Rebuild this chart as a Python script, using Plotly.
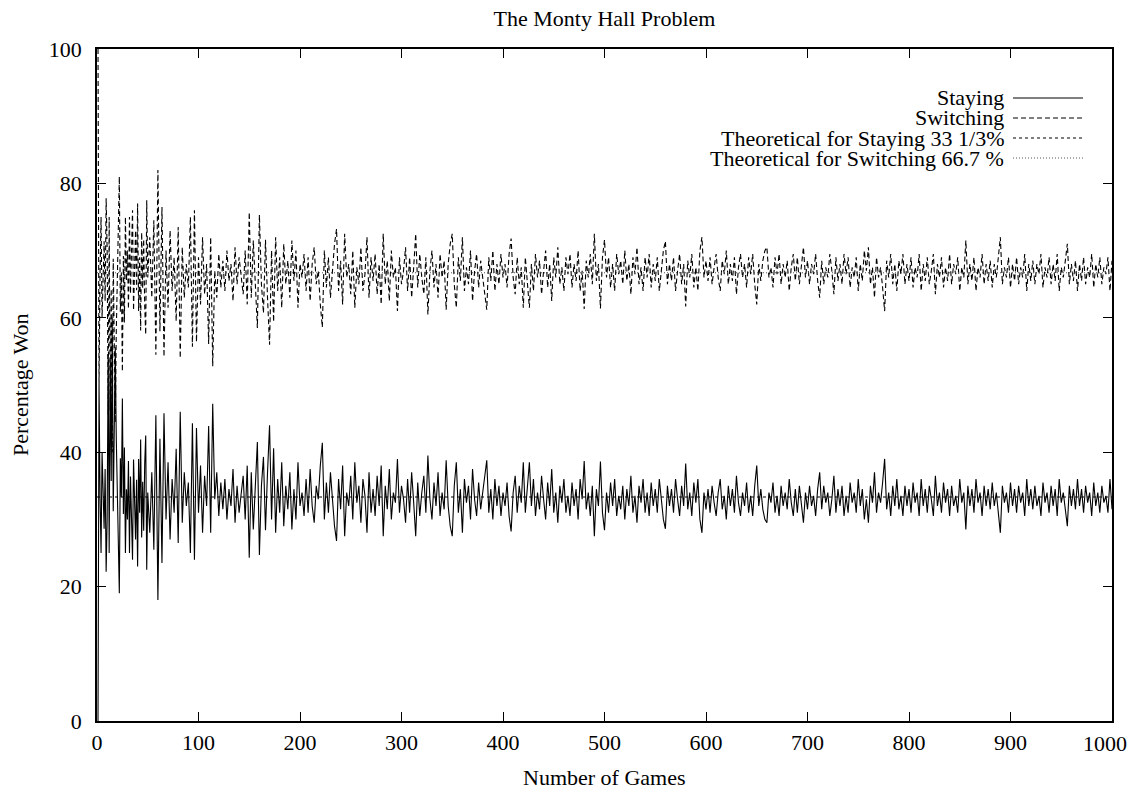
import plotly.graph_objects as go

# ---------------- data (percentage won per experiment of n games) ----------------
stay_1_50 = [0, 50, 33.3, 25, 40, 33.3, 28.6, 37.5, 22.2, 30,
             54.5, 25, 53.8, 35.7, 60, 31.2, 47.1, 55.6, 42.1, 35,
             23.8, 19, 39.1, 33.3, 48, 30.8, 40.7, 25, 34.5, 30,
             38.7, 25, 36.4, 29.4, 24, 38.9, 32.4, 27, 35.9, 23,
             39, 31, 41.9, 27.3, 35.6, 28.3, 38.3, 42.5, 22.5, 34]
switch_1_50 = [100, 50, 66.7, 75, 60, 66.7, 71.4, 62.5, 77.8, 70,
               45.5, 75, 46.2, 64.3, 40, 68.8, 52.9, 44.4, 57.9, 65,
               76.2, 81, 60.9, 66.7, 52, 69.2, 59.3, 75, 65.5, 70,
               61.3, 75, 63.6, 70.6, 76, 61.1, 67.6, 73, 64.1, 77,
               61, 69, 58.1, 72.7, 64.4, 71.7, 61.7, 57.5, 77.5, 66]

stay_52_200 = [28, 37, 25.5, 45.5, 18, 42, 23.5, 45.8, 30, 38.5,
               27, 36, 31, 40.5, 26.5, 46, 29.5, 37, 32, 35.5,
               25, 44.3, 24, 43.6, 31, 38, 28, 36.5, 32, 43.9,
               28, 47.2, 33, 37, 30.5, 35.5, 31.5, 36, 30, 34.5,
               32, 37.5, 29.5, 35, 31, 34, 36.5, 30, 38, 24.3,
               37, 28.5, 36, 41.5, 24.7, 35, 39.3, 28.4, 37, 44,
               30, 40.6, 28, 36, 31, 38.5, 29, 35, 31.5, 37,
               28.5, 34.5, 30, 38.5, 32]
switch_52_200 = [72, 63, 74.5, 54.5, 82, 58, 76.5, 54.2, 70, 61.5,
                 73, 64, 69, 59.5, 73.5, 54, 70.5, 63, 68, 64.5,
                 75, 55.7, 76, 56.4, 69, 62, 72, 63.5, 68, 56.1,
                 72, 52.8, 67, 63, 69.5, 64.5, 68.5, 64, 70, 65.5,
                 68, 62.5, 70.5, 65, 69, 66, 63.5, 70, 62, 75.7,
                 63, 71.5, 64, 58.5, 75.3, 65, 60.7, 71.6, 63, 56,
                 70, 59.4, 72, 64, 69, 61.5, 71, 65, 68.5, 63,
                 71.5, 65.5, 70, 61.5, 68]

stay_202_300 = [34, 30.5, 36, 31, 37.5, 32, 29.5, 35, 33, 38,
                41.4, 30, 35.5, 31, 37, 33, 29, 26.8, 36, 31.5,
                38, 27.5, 34, 32, 36.5, 30, 38.5, 32.5, 35, 29.5,
                36, 33.5, 28, 37, 31, 34.5, 30.5, 36.5, 32, 38,
                27.5, 35, 31.5, 37.5, 30, 34, 32.5, 39, 31, 35]
switch_202_300 = [66, 69.5, 64, 69, 62.5, 68, 70.5, 65, 67, 62,
                  58.6, 70, 64.5, 69, 63, 67, 71, 73.2, 64, 68.5,
                  62, 72.5, 66, 68, 63.5, 70, 61.5, 67.5, 65, 70.5,
                  64, 66.5, 72, 63, 69, 65.5, 69.5, 63.5, 68, 62,
                  72.5, 65, 68.5, 62.5, 70, 66, 67.5, 61, 69, 65]

stay_302_400 = [33, 29.5, 36, 31, 37, 32.5, 27.5, 35.5, 30.5, 34,
                36.5, 31, 39.5, 33, 30, 35.5, 32, 37, 30.5, 34,
                31.5, 38.8, 32, 29, 27.5, 35, 38.5, 31, 34.5, 28,
                36, 32.5, 35, 30, 37.5, 33, 30.5, 35.5, 31.5, 34,
                36.5, 38.8, 31, 34.5, 30, 36, 32, 35, 30.5, 34]
switch_302_400 = [67, 70.5, 64, 69, 63, 67.5, 72.5, 64.5, 69.5, 66,
                  63.5, 69, 60.5, 67, 70, 64.5, 68, 63, 69.5, 66,
                  68.5, 61.2, 68, 71, 72.5, 65, 61.5, 69, 65.5, 72,
                  64, 67.5, 65, 70, 62.5, 67, 69.5, 64.5, 68.5, 66,
                  63.5, 61.2, 69, 65.5, 70, 64, 68, 65, 69.5, 66]

stay_402_500 = [32, 35.5, 30.5, 28.2, 34, 36.5, 31, 35, 32.5, 38.5,
                31, 34.5, 38.5, 32, 36, 30.5, 34, 31.5, 36.5, 33,
                30, 35.5, 32, 37.5, 31, 34, 29.5, 35, 32.5, 36,
                31, 33.5, 30.5, 35.5, 32, 34.5, 30, 36, 33, 38.7,
                31.5, 34, 30.5, 35, 27.5, 34.5, 32, 38.6, 31, 28.4]
switch_402_500 = [68, 64.5, 69.5, 71.8, 66, 63.5, 69, 65, 67.5, 61.5,
                  69, 65.5, 61.5, 68, 64, 69.5, 66, 68.5, 63.5, 67,
                  70, 64.5, 68, 62.5, 69, 66, 70.5, 65, 67.5, 64,
                  69, 66.5, 69.5, 64.5, 68, 65.5, 70, 64, 67, 61.3,
                  68.5, 66, 69.5, 65, 72.5, 65.5, 68, 61.4, 69, 71.6]

stay_502_600 = [34, 31, 35.5, 32, 36, 30.5, 33.5, 31.5, 35, 30,
                34.5, 32, 36.5, 31, 33.5, 29.5, 35, 32.5, 36, 31,
                34, 30.5, 35.5, 32, 34.5, 31, 36, 33, 30, 28.6,
                35, 32, 34.5, 31, 36, 33, 30.5, 35, 32, 38.3,
                31.5, 34, 30.5, 35.5, 32.5, 36, 30, 28, 34, 31.5]
switch_502_600 = [66, 69, 64.5, 68, 64, 69.5, 66.5, 68.5, 65, 70,
                  65.5, 68, 63.5, 69, 66.5, 70.5, 65, 67.5, 64, 69,
                  66, 69.5, 64.5, 68, 65.5, 69, 64, 67, 70, 71.4,
                  65, 68, 65.5, 69, 64, 67, 69.5, 65, 68, 61.7,
                  68.5, 66, 69.5, 64.5, 67.5, 64, 70, 72, 66, 68.5]

stay_602_700 = [34.5, 31, 35, 32.5, 30.5, 34, 36, 31.5, 33.5, 30,
                35, 32, 34.5, 31, 36.5, 32.5, 30.5, 34, 32, 35.5,
                31, 33.5, 30.5, 35, 38, 32, 34.5, 31.5, 30, 29.5,
                34, 32.5, 35.5, 31, 33.5, 30.5, 35, 32, 34, 31.5,
                36, 32.5, 30.5, 34.5, 31, 35, 32, 29.5, 34, 31.5]
switch_602_700 = [65.5, 69, 65, 67.5, 69.5, 66, 64, 68.5, 66.5, 70,
                  65, 68, 65.5, 69, 63.5, 67.5, 69.5, 66, 68, 64.5,
                  69, 66.5, 69.5, 65, 62, 68, 65.5, 68.5, 70, 70.5,
                  66, 67.5, 64.5, 69, 66.5, 69.5, 65, 68, 66, 68.5,
                  64, 67.5, 69.5, 65.5, 69, 65, 68, 70.5, 66, 68.5]

stay_702_800 = [35, 32, 33.5, 30.5, 34.5, 37, 31.5, 35, 32.5, 34,
                30.5, 33, 36.5, 31, 34.5, 32, 35, 30.5, 33.5, 31,
                35.5, 32.5, 34, 31, 36, 32, 34.5, 30, 33, 29.5,
                35, 32.5, 37, 31, 34, 32.5, 35.5, 39, 31.5, 34,
                30.5, 35, 32, 36, 31.5, 33.5, 30.5, 35, 32, 34.5]
switch_702_800 = [65, 68, 66.5, 69.5, 65.5, 63, 68.5, 65, 67.5, 66,
                  69.5, 67, 63.5, 69, 65.5, 68, 65, 69.5, 66.5, 69,
                  64.5, 67.5, 66, 69, 64, 68, 65.5, 70, 67, 70.5,
                  65, 67.5, 63, 69, 66, 67.5, 64.5, 61, 68.5, 66,
                  69.5, 65, 68, 64, 68.5, 66.5, 69.5, 65, 68, 65.5]

stay_802_900 = [31, 35.5, 32.5, 34, 30.5, 36, 32, 34.5, 31, 35,
                33, 30.5, 36.5, 32, 34, 31, 35.5, 32.5, 34.5, 30.5,
                35, 32, 33.5, 31, 36, 32.5, 34, 28.5, 35, 32,
                34.5, 31, 36, 32.5, 34, 30.5, 35, 32, 34.5, 31.5,
                35.5, 32, 34, 30.5, 28, 35, 32.5, 34, 31, 35.5]
switch_802_900 = [69, 64.5, 67.5, 66, 69.5, 64, 68, 65.5, 69, 65,
                  67, 69.5, 63.5, 68, 66, 69, 64.5, 67.5, 65.5, 69.5,
                  65, 68, 66.5, 69, 64, 67.5, 66, 71.5, 65, 68,
                  65.5, 69, 64, 67.5, 66, 69.5, 65, 68, 65.5, 68.5,
                  64.5, 68, 66, 69.5, 72, 65, 67.5, 66, 69, 64.5]

stay_902_1000 = [32, 34.5, 31, 35, 32.5, 34, 30.5, 36, 32, 34.5,
                 31.5, 35, 32, 33.5, 30.5, 35.5, 32.5, 34, 31, 35,
                 32, 34.5, 30.5, 36, 32.5, 34, 31, 29, 35, 32,
                 34.5, 31.5, 36, 32, 34.5, 31, 35, 32.5, 34, 30.5,
                 35.5, 32, 34, 31, 35, 32.5, 33.5, 31, 36, 31.5]
switch_902_1000 = [68, 65.5, 69, 65, 67.5, 66, 69.5, 64, 68, 65.5,
                   68.5, 65, 68, 66.5, 69.5, 64.5, 67.5, 66, 69, 65,
                   68, 65.5, 69.5, 64, 67.5, 66, 69, 71, 65, 68,
                   65.5, 68.5, 64, 68, 65.5, 69, 65, 67.5, 66, 69.5,
                   64.5, 68, 66, 69, 65, 67.5, 66.5, 69, 64, 68.5]

# (first game count, step, staying values, switching values)
segments = [
    (1, 1, stay_1_50, switch_1_50),
    (52, 2, stay_52_200, switch_52_200),
    (202, 2, stay_202_300, switch_202_300),
    (302, 2, stay_302_400, switch_302_400),
    (402, 2, stay_402_500, switch_402_500),
    (502, 2, stay_502_600, switch_502_600),
    (602, 2, stay_602_700, switch_602_700),
    (702, 2, stay_702_800, switch_702_800),
    (802, 2, stay_802_900, switch_802_900),
    (902, 2, stay_902_1000, switch_902_1000),
]

theory_stay = 33.333
theory_switch = 66.7
game_range = [0, 1000]
x_ticks = [0, 100, 200, 300, 400, 500, 600, 700, 800, 900, 1000]
y_ticks = [0, 20, 40, 60, 80, 100]

legend_labels = ["Staying", "Switching",
                 "Theoretical for Staying 33 1/3%",
                 "Theoretical for Switching 66.7 %"]

# ---------------- build series ----------------
games, staying, switching = [], [], []
for start, step, st, sw in segments:
    n = min(len(st), len(sw))
    games += [start + step * i for i in range(n)]
    staying += st[:n]
    switching += sw[:n]

FONT = "Liberation Serif, Times New Roman, serif"
FS = 22

styles = [
    dict(color="black", width=1.1, dash="solid"),
    dict(color="black", width=1.1, dash="5px,3px"),
    dict(color="black", width=1, dash="3px,3px"),
    dict(color="#555555", width=1, dash="1px,2px"),
]

fig = go.Figure()
fig.add_trace(go.Scatter(x=games, y=staying, mode="lines", line=styles[0],
                         name=legend_labels[0], showlegend=False))
fig.add_trace(go.Scatter(x=games, y=switching, mode="lines", line=styles[1],
                         name=legend_labels[1], showlegend=False))
fig.add_trace(go.Scatter(x=game_range, y=[theory_stay, theory_stay], mode="lines",
                         line=styles[2], name=legend_labels[2], showlegend=False))
fig.add_trace(go.Scatter(x=game_range, y=[theory_switch, theory_switch], mode="lines",
                         line=styles[3], name=legend_labels[3], showlegend=False))

# ---------------- layout ----------------
W, H = 1130, 789
L, R, T, B = 97, 18, 49, 68
pw, ph = W - L - R, H - T - B

def px_to_paper_x(px):
    return (px - L) / pw

def px_to_paper_y(py):
    return (H - B - py) / ph

annotations = []
shapes = []
legend_rows_y = [98, 118, 138, 158]
for label, style, ry in zip(legend_labels, styles, legend_rows_y):
    yy = px_to_paper_y(ry)
    annotations.append(dict(xref="paper", yref="paper", x=px_to_paper_x(1006), y=yy,
                            text=label, showarrow=False, xanchor="right", yanchor="middle",
                            font=dict(family=FONT, size=FS, color="black")))
    shapes.append(dict(type="line", xref="paper", yref="paper",
                       x0=px_to_paper_x(1013), x1=px_to_paper_x(1083), y0=yy, y1=yy,
                       line=dict(color=style["color"], width=1, dash=style["dash"])))

# last x tick label placed inside the page so it is not dropped at the edge
annotations.append(dict(xref="paper", yref="paper", x=px_to_paper_x(W - 1), y=px_to_paper_y(743),
                        text=str(x_ticks[-1]), showarrow=False,
                        xanchor="right", yanchor="middle",
                        font=dict(family=FONT, size=FS, color="black")))

annotations.append(dict(xref="paper", yref="paper", x=0.5, y=px_to_paper_y(777),
                        text="Number of Games", showarrow=False,
                        xanchor="center", yanchor="middle",
                        font=dict(family=FONT, size=FS, color="black")))
annotations.append(dict(xref="paper", yref="paper", x=px_to_paper_x(20), y=0.5,
                        text="Percentage Won", showarrow=False, textangle=-90,
                        xanchor="center", yanchor="middle",
                        font=dict(family=FONT, size=FS, color="black")))

axis_common = dict(showline=True, linecolor="black", linewidth=1.5, mirror="allticks",
                   ticks="inside", ticklen=9, tickwidth=1, tickcolor="black",
                   showgrid=False, zeroline=False,
                   tickfont=dict(family=FONT, size=FS, color="black"))

fig.update_layout(
    width=W, height=H,
    margin=dict(l=L, r=R, t=T, b=B),
    paper_bgcolor="white", plot_bgcolor="white",
    title=dict(text="The Monty Hall Problem", x=(L + pw / 2) / W, xanchor="center",
               y=1 - 18 / H, yanchor="middle",
               font=dict(family=FONT, size=FS, color="black")),
    xaxis=dict(range=game_range, tickvals=x_ticks[:-1], ticklabelstandoff=1, **axis_common),
    yaxis=dict(range=[0, 100], tickvals=y_ticks, ticklabelstandoff=9, **axis_common),
    annotations=annotations,
    shapes=shapes,
    showlegend=False,
)

fig.write_html("out.html",
               config={"displayModeBar": False},
               post_script="document.body.style.margin='0px';"
                           "document.body.style.padding='0px';"
                           "document.documentElement.style.overflow='hidden';"
                           "document.body.style.overflow='hidden';")
